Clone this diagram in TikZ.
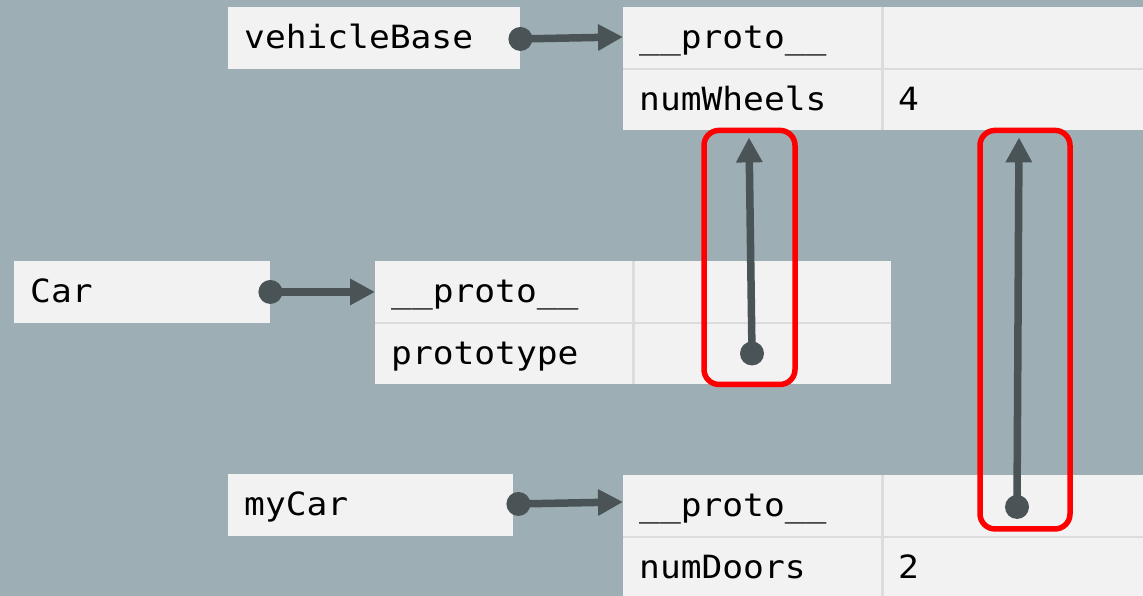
\documentclass[tikz,border=0pt]{standalone}
\usepackage{fontspec}
\newfontfamily\codefont{DejaVu Sans Mono}[FakeStretch=1.08]
\usetikzlibrary{arrows.meta,calc}
\definecolor{bgslate}{HTML}{9DAEB4}
\definecolor{cellfill}{HTML}{F2F2F2}
\definecolor{gridline}{HTML}{DCDCDC}
\definecolor{ptrgray}{HTML}{4A5457}
\definecolor{hilite}{HTML}{FF0000}
\begin{document}
\begin{tikzpicture}[x=1pt,y=-1pt,
  cell/.style={fill=cellfill, inner xsep=16pt, inner ysep=0pt, anchor=north west,
    minimum height=61.5pt, text width=#1-32pt, align=left,
    text height=25pt, text depth=3pt,
    font=\codefont\fontsize{32}{32}\selectfont, text=black},
  cell/.default=258pt,
  divider/.style={draw=gridline, line width=2.5pt},
  ptr/.style={draw=ptrgray, line width=7.5pt, -{Triangle[length=25pt,width=25pt]}},
  dot/.style={fill=ptrgray},
  frame/.style={draw=hilite, line width=5.5pt, rounded corners=15pt}
]
% canvas
\fill[bgslate] (0,0) rectangle (1143,596);
\useasboundingbox (0,0) rectangle (1143,596);

% variable names
\node[cell=292pt] (vb)    at (228,7)   {vehicleBase};
\node[cell=256pt] (car)   at (14,261)  {Car};
\node[cell=285pt] (mycar) at (228,474) {myCar};

% vehicleBase object
\node[cell=259pt] (vbProto)     at (623,7)    {\_\_proto\_\_};
\node[cell=261pt] (vbProtoVal)  at (882,7)    {};
\node[cell=259pt] (vbWheels)    at (623,68.5) {numWheels};
\node[cell=261pt] (vbWheelsVal) at (882,68.5) {4};
\draw[divider] (vbProto.north east) -- (vbWheels.south east);
\draw[divider] (vbProto.south west) -- (vbProtoVal.south east);

% Car object
\node[cell=258pt] (carProto)   at (375,261)   {\_\_proto\_\_};
\node[cell=258pt] (carProtoVal) at (633,261)  {};
\node[cell=258pt] (carPt)      at (375,322.5) {prototype};
\node[cell=258pt] (carPtVal)   at (633,322.5) {};
\draw[divider] (carProto.north east) -- (carPt.south east);
\draw[divider] (carProto.south west) -- (carProtoVal.south east);

% myCar object
\node[cell=259pt] (mcProto)    at (623,475)   {\_\_proto\_\_};
\node[cell=261pt] (mcProtoVal) at (882,475)   {};
\node[cell=259pt] (mcDoors)    at (623,536.5) {numDoors};
\node[cell=261pt] (mcDoorsVal) at (882,536.5) {2};
\draw[divider] (mcProto.north east) -- (mcDoors.south east);
\draw[divider] (mcProto.south west) -- (mcProtoVal.south east);

% references from names to objects
\draw[ptr] ($(vb.east)+(0,1)$) -- ($(vbProto.west)+(0,-1)$);
\fill[dot] ($(vb.east)+(0,1)$) circle (12pt);
\draw[ptr] (car.east) -- (carProto.west);
\fill[dot] (car.east) circle (12pt);
\draw[ptr] ($(mycar.east)+(5,-1)$) -- ($(mcProto.west)+(0,-4)$);
\fill[dot] ($(mycar.east)+(5,-1)$) circle (12pt);

% prototype links
\coordinate (d1) at ($(carPtVal.west)+(119,0)$);
\coordinate (t1) at ($(vbWheels.south west)+(126,7)$);
\coordinate (d2) at ($(mcProtoVal.west)+(135,1)$);
\coordinate (t2) at ($(vbWheelsVal.south west)+(137,7)$);
\draw[ptr] (d1) -- (t1);
\fill[dot] (d1) circle (12pt);
\draw[ptr] (d2) -- (t2);
\fill[dot] (d2) circle (12pt);

% highlight frames
\draw[frame] ($(t1)+(-45,-7)$) rectangle ($(d1)+(43,31)$);
\draw[frame] ($(t2)+(-39,-7)$) rectangle ($(d2)+(53,22)$);
\end{tikzpicture}
\end{document}
